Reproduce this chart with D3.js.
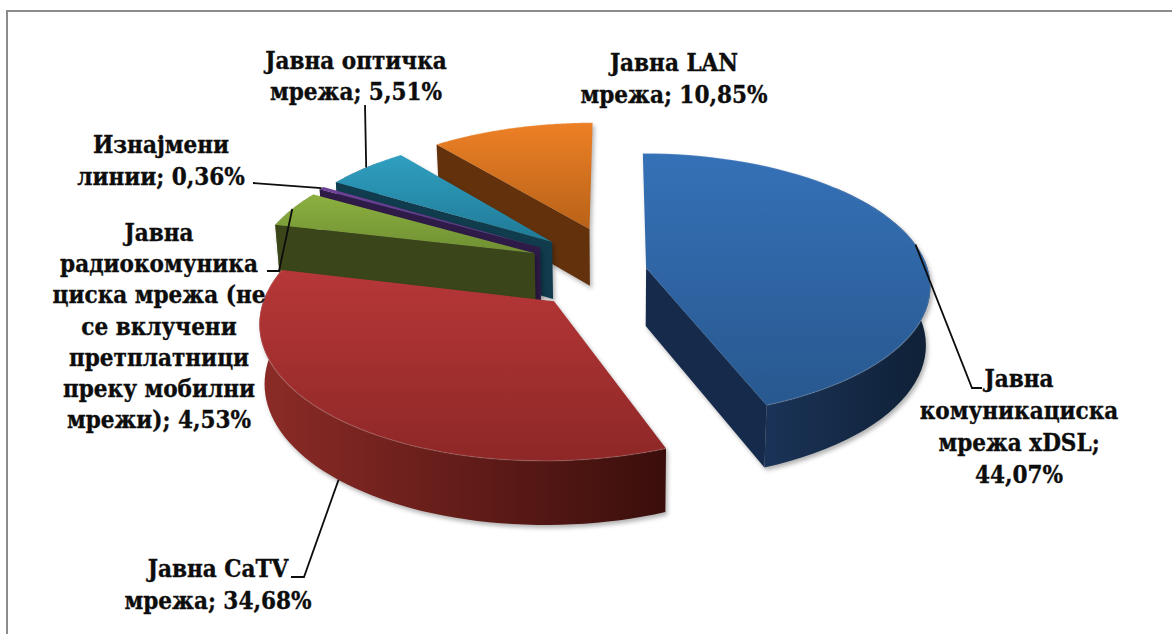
<!DOCTYPE html>
<html>
<head>
<meta charset="utf-8">
<script src="https://cdnjs.cloudflare.com/ajax/libs/d3/7.8.5/d3.min.js"></script>
<style>
html, body { margin: 0; padding: 0; background: #fff; }
svg { display: block; }
text { font-family: "DejaVu Serif Condensed", "DejaVu Serif", serif; font-weight: bold; font-size: 24px; fill: #0d0d0d; stroke: #0d0d0d; stroke-width: 0.35px; }
</style>
</head>
<body>
<svg id="chart" width="1172" height="634"></svg>
<script>
// values in the order of the pie, clockwise from 12 o'clock
var names = ["xdsl", "catv", "radio", "leased", "fiber", "lan"];
var shares = [44.07, 34.68, 4.53, 0.36, 5.51, 10.85];
var labelLines = [
    ["Јавна", "комуникациска", "мрежа xDSL;", "44,07%"],
    ["Јавна CaTV", "мрежа; 34,68%"],
    ["Јавна", "радиокомуника", "циска мрежа (не", "се вклучени", "претплатници", "преку мобилни", "мрежи); 4,53%"],
    ["Изнајмени", "линии; 0,36%"],
    ["Јавна оптичка", "мрежа; 5,51%"],
    ["Јавна LAN", "мрежа; 10,85%"]
];
var topColors = [["#3571b7", "#28588f"], ["#b73737", "#8e2727"], ["#8cb03f", "#6f8f33"], ["#6d4196", "#5c3580"], ["#2f9fc0", "#207a96"], ["#ed8026", "#b86218"]];
var wallColors = ["#162b4c", "#3a0f0c", "#3a451a", "#2f1b48", "#113c4d", "#63320d"];
var rimColors = [["#1a3357", "#0f2036"], ["#8c2b27", "#3a0e0b"], ["#5f7029", "#3a451a"], ["#2f1b48", "#2f1b48"], ["#15495d", "#113c4d"], ["#63320d", "#63320d"]];
var explode = [29, 90, 92, 94, 92, 97];
var paintOrder = [5, 4, 3, 2, 1, 0];

// label placement: centre x, first baseline, line step, leader end points
var labelX = [1019, 218, 159, 161, 356, 674];
var labelY = [387, 577, 241, 153, 69, 71];
var labelStep = [32, 32, 31.2, 32, 31, 32];
var leaderEnd = [[[972, 388], [982, 388]], [[304, 577], [291, 577]], [[279, 271], [267, 271]], [[253, 183]], [[365, 105]], []];

var width = 1172, height = 634;
var cx = 617.5, cy = 270, R = 282, tilt = 0.461, persp = 0.13, depth = 58;
var explodeTurn = 2 * Math.PI / 180;

var svg = d3.select("#chart");
var defs = svg.append("defs");

var pie = d3.pie().sort(null).value(function (d) { return d; });
var arcs = pie(shares);

// ground plane -> screen, z is how far below the top surface
function project(u, v, z) {
    var s = 1 / (1 + persp * v / R);
    var shrink = 1 - 0.00025 * z;
    return [cx + u * s * shrink, cy - v * tilt * s + z * (0.45 + 0.55 * s)];
}

function offsetOf(i) {
    var mid = (arcs[i].startAngle + arcs[i].endAngle) / 2 + explodeTurn;
    return [explode[i] * Math.sin(mid), explode[i] * Math.cos(mid)];
}

function rimPoint(i, a, z) {
    var o = offsetOf(i);
    return project(o[0] + R * Math.sin(a), o[1] + R * Math.cos(a), z);
}

function apex(i, z) {
    var o = offsetOf(i);
    return project(o[0], o[1], z);
}

function rimAngles(i) {
    return d3.range(0, 61).map(function (k) {
        return arcs[i].startAngle + (arcs[i].endAngle - arcs[i].startAngle) * k / 60;
    });
}

function rimPoints(i, z) {
    return rimAngles(i).map(function (a) { return rimPoint(i, a, z); });
}

// the back of the rim never shows, so the outer wall leaves it out
function frontRimPoints(i, z) {
    return rimAngles(i)
        .filter(function (a) { return Math.cos(a) < 0.7; })
        .map(function (a) { return rimPoint(i, a, z); });
}

var line = d3.line();

function addGradient(id, horizontal, colors) {
    var g = defs.append("linearGradient")
        .attr("id", id)
        .attr("x1", 0).attr("y1", 0)
        .attr("x2", horizontal ? 1 : 0).attr("y2", horizontal ? 0 : 1);
    g.append("stop").attr("offset", 0).attr("stop-color", colors[0]);
    g.append("stop").attr("offset", 1).attr("stop-color", colors[1]);
}

names.forEach(function (n, i) {
    addGradient("top-" + n, false, topColors[i]);
    addGradient("rim-" + n, true, rimColors[i]);
});

var slices = svg.selectAll("g.slice")
    .data(paintOrder)
    .enter().append("g")
    .attr("class", "slice")
    .style("filter", "drop-shadow(2px 3px 2px rgba(0,0,0,0.3))");

// outer wall
slices.append("path")
    .attr("fill", function (i) { return "url(#rim-" + names[i] + ")"; })
    .attr("d", function (i) {
        var t = frontRimPoints(i, 0);
        if (t.length === 0) return null;
        return line(t.concat(frontRimPoints(i, depth).reverse())) + "Z";
    });
// side walls, only the ones facing the viewer
slices.append("path")
    .attr("fill", function (i) { return wallColors[i]; })
    .attr("d", function (i) {
        if (Math.sin(arcs[i].startAngle) > -0.01) return null;
        var t = rimPoints(i, 0), b = rimPoints(i, depth);
        return line([apex(i, 0), t[0], b[0], apex(i, depth)]) + "Z";
    });
slices.append("path")
    .attr("fill", function (i) { return wallColors[i]; })
    .attr("d", function (i) {
        if (Math.sin(arcs[i].endAngle) < 0.01) return null;
        var t = rimPoints(i, 0), b = rimPoints(i, depth);
        return line([apex(i, 0), t[60], b[60], apex(i, depth)]) + "Z";
    });
// top face
slices.append("path")
    .attr("fill", function (i) { return "url(#top-" + names[i] + ")"; })
    .attr("d", function (i) {
        return line([apex(i, 0)].concat(rimPoints(i, 0))) + "Z";
    });
// light bevel along the rim
slices.append("path")
    .attr("fill", "none")
    .attr("stroke", "rgba(255,255,255,0.12)")
    .attr("stroke-width", 1.5)
    .attr("d", function (i) { return line(rimPoints(i, 0)); });

// leaders start on the rim at the middle of the slice
var leaders = svg.selectAll("path.leader")
    .data(d3.range(shares.length).filter(function (i) { return leaderEnd[i].length > 0; }))
    .enter().append("path")
    .attr("class", "leader")
    .attr("fill", "none")
    .attr("stroke", "#0d0d0d")
    .attr("stroke-width", 1.8)
    .attr("d", function (i) {
        var mid = (arcs[i].startAngle + arcs[i].endAngle) / 2;
        var start = rimPoint(i, mid, names[i] === "catv" ? depth : 0);
        return line([start].concat(leaderEnd[i]));
    });

var labels = svg.selectAll("text.label")
    .data(labelLines)
    .enter().append("text")
    .attr("class", "label")
    .attr("text-anchor", "middle");

labels.selectAll("tspan")
    .data(function (d, i) {
        return d.map(function (t, k) { return { t: t, i: i, k: k }; });
    })
    .enter().append("tspan")
    .attr("x", function (d) { return labelX[d.i]; })
    .attr("y", function (d) { return labelY[d.i] + d.k * labelStep[d.i]; })
    .text(function (d) { return d.t; });

// frame of the chart area, only the top and left edges show
svg.append("path")
    .attr("fill", "none")
    .attr("stroke", "#8c8c8c")
    .attr("stroke-width", 2)
    .attr("d", line([[7, height], [7, 11], [width, 11]]));
</script>
</body>
</html>
